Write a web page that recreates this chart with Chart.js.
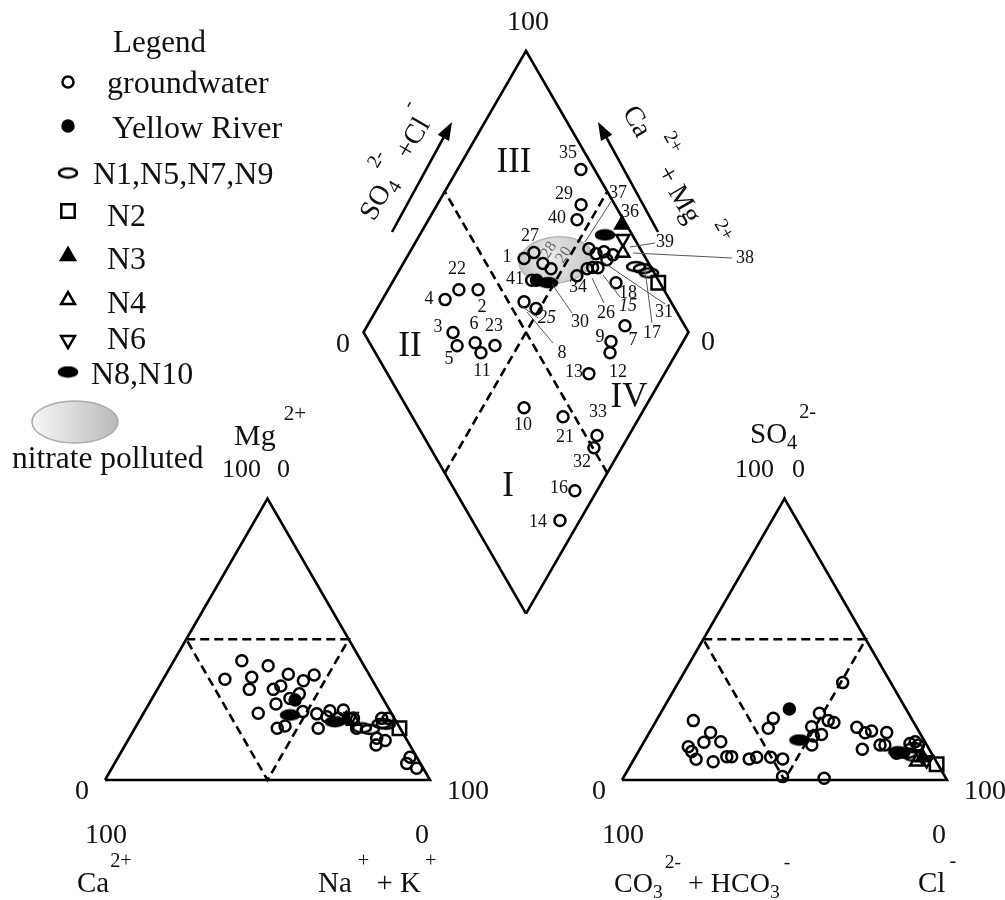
<!DOCTYPE html>
<html>
<head>
<meta charset="utf-8">
<script src="https://cdn.jsdelivr.net/npm/chart.js@4.4.1/dist/chart.umd.min.js"></script>
<style>
  html, body { margin: 0; padding: 0; background: #fff; }
  canvas { display: block; }
</style>
</head>
<body>
<canvas id="piper" width="1005" height="900"></canvas>
<script>
// cation triangle values, [Na+K %, Mg %]
const catGround = [
  [20.9, 42.4], [29.9, 40.6], [19.0, 35.8], [26.9, 36.5], [28.3, 32.2], [37.6, 37.6],
  [45.7, 37.3], [43.4, 35.3], [35.7, 32.2], [37.4, 33.4], [44.5, 30.6], [42.4, 29.0],
  [39.1, 27.0], [35.3, 23.7], [43.8, 18.4], [45.8, 19.2], [48.7, 24.3], [53.4, 23.5],
  [56.9, 24.6], [60.9, 24.9], [65.5, 21.9], [56.4, 18.4], [68.2, 18.4], [74.2, 21.9],
  [76.2, 21.9], [76.2, 14.8], [79.2, 14.0], [77.2, 12.4], [89.8, 8.1], [89.9, 5.9],
  [93.8, 4.2], [60.9, 21.9], [57.0, 22.5]
];
const catRiver = [[44.3, 28.4]];
const catN1579 = [[72.5, 18.0], [69.8, 18.5], [75.1, 20.1], [76.5, 19.8]];
const catN2 = [[81.4, 18.4]];
const catN3 = [[63.5, 21.5]];
const catN4 = [[66.0, 21.0]];
const catN6 = [[64.5, 22.5]];
const catN810 = [[45.4, 23.1], [60.4, 20.7]];

// anion triangle values, [Cl %, SO4 %]
const anGround = [
  [11.4, 21.1], [18.8, 16.9], [18.5, 13.4], [23.6, 13.6], [14.5, 11.8], [16.4, 10.1],
  [19.1, 7.4], [24.8, 6.5], [28.1, 8.3], [29.6, 8.3], [35.4, 7.5], [37.4, 8.1],
  [41.7, 8.1], [45.7, 7.5], [48.8, 1.2], [61.9, 0.6], [35.6, 21.9], [35.8, 18.4],
  [50.6, 34.6], [48.9, 23.7], [48.9, 18.9], [53.3, 16.2], [52.9, 21.1], [55.0, 20.4],
  [51.1, 15.6], [52.2, 12.4], [62.9, 18.7], [66.4, 16.8], [68.1, 17.4], [73.0, 16.9],
  [68.5, 10.9], [73.2, 12.4], [74.7, 12.4], [83.4, 13.6], [85.0, 12.4], [82.1, 13.0],
  [79.7, 9.5]
];
const anRiver = [[38.9, 25.2]];
const anN1579 = [[82.9, 9.5], [85.4, 8.5], [80.0, 10.0], [84.0, 11.5]];
const anN2 = [[94.0, 5.6]];
const anN3 = [[88.5, 8.0]];
const anN4 = [[87.4, 6.5]];
const anN6 = [[90.2, 7.1]];
const anN810 = [[47.5, 14.2], [80.8, 9.5]];

// diamond values, [SO4+Cl %, Ca+Mg %]
const diaIds = [
  '1', '2', '3', '4', '5', '6', '7', '9', '10', '11', '12', '13', '14', '16', '21', '22',
  '23', '27', '28', '20', '29', '32', '33', '35', '40', '41', '25', '8', '37', '36', '39',
  '38', '26', '30', '34', '18', '15', '31'
];
const diaGround = [
  [62.5, 63.7], [42.8, 72.3], [27.5, 72.4], [30.9, 80.7], [26.4, 68.8], [32.5, 63.8],
  [81.6, 20.7], [74.5, 22.2], [36.0, 37.2], [32.5, 60.2], [72.2, 20.5], [62.0, 23.3],
  [27.0, 6.1], [36.9, 6.8], [46.4, 23.6], [36.9, 78.2], [38.1, 57.2], [66.6, 61.7],
  [67.4, 57.0], [69.0, 53.6], [89.6, 55.7], [50.4, 8.6], [53.5, 9.8], [95.8, 62.0],
  [85.7, 54.3], [61.0, 57.5], [57.3, 51.1], [54.8, 56.0], [84.2, 45.5], [85.5, 42.4],
  [88.3, 40.3], [87.8, 38.0], [83.6, 39.3], [80.1, 42.5], [75.7, 44.4], [86.5, 31.1],
  [82.0, 41.0], [90.5, 37.0]
];
const diaRiver = [[62.5, 56.0]];
const diaN1579 = [[95.5, 27.8], [97.3, 25.3], [98.4, 22.7]];
const diaN2 = [[99.5, 18.1]];
const diaN3 = [[98.6, 39.6]];
const diaN4 = [[93.9, 34.3]];
const diaN6 = [[96.4, 36.8]];
const diaN810 = [[91.6, 43.0], [65.6, 52.0]];

// layout of the piper plot (chart units = pixels)
const X0 = 105, BASE = 780, SIDE = 325, GAP = 192;
const H = SIDE * Math.sqrt(3) / 2;
const k = SIDE / 100, kh = H / 100;
const catXY = ([nak, mg]) => ({ x: X0 + k * (nak + mg / 2), y: BASE - kh * mg });
const anXY = ([cl, so4]) => ({ x: X0 + SIDE + GAP + k * (cl + so4 / 2), y: BASE - kh * so4 });
const Bx = X0 + SIDE + GAP / 2, By = BASE - GAP / 2 * Math.sqrt(3);
const diaXY = ([s, c]) => ({ x: Bx + k / 2 * (s - c), y: By - kh * (s + c) });

const SERIF = '"Liberation Serif", "Times New Roman", serif';

function ellipseMark(filled) {
  const c = document.createElement('canvas');
  c.width = 22; c.height = 13;
  const g = c.getContext('2d');
  g.beginPath();
  g.ellipse(11, 6.5, 9, 4.5, 0, 0, Math.PI * 2);
  g.lineWidth = 2.5;
  g.strokeStyle = '#000';
  if (filled) { g.fillStyle = '#000'; g.fill(); }
  g.stroke();
  return c;
}

const groups = [
  { label: 'groundwater', cat: catGround, an: anGround, dia: diaGround,
    style: { pointStyle: 'circle', pointRadius: 5.5, backgroundColor: 'rgba(0,0,0,0)' } },
  { label: 'Yellow River', cat: catRiver, an: anRiver, dia: diaRiver,
    style: { pointStyle: 'circle', pointRadius: 5.5, backgroundColor: '#000' } },
  { label: 'N1,N5,N7,N9', cat: catN1579, an: anN1579, dia: diaN1579,
    style: { pointStyle: ellipseMark(false), pointRadius: 6 } },
  { label: 'N2', cat: catN2, an: anN2, dia: diaN2,
    style: { pointStyle: 'rect', pointRadius: 9.5, backgroundColor: 'rgba(0,0,0,0)' } },
  { label: 'N3', cat: catN3, an: anN3, dia: diaN3,
    style: { pointStyle: 'triangle', pointRadius: 7.5, backgroundColor: '#000' } },
  { label: 'N4', cat: catN4, an: anN4, dia: diaN4,
    style: { pointStyle: 'triangle', pointRadius: 7.5, backgroundColor: 'rgba(0,0,0,0)' } },
  { label: 'N6', cat: catN6, an: anN6, dia: diaN6,
    style: { pointStyle: 'triangle', pointRadius: 7.5, pointRotation: 180, backgroundColor: 'rgba(0,0,0,0)' } },
  { label: 'N8,N10', cat: catN810, an: anN810, dia: diaN810,
    style: { pointStyle: ellipseMark(true), pointRadius: 6 } }
];

const frame = (pts, dash) => ({
  data: pts, showLine: true, pointRadius: 0, borderColor: '#000',
  borderWidth: 2.6, borderDash: dash || [], fill: false, order: 10, clip: false
});

const datasets = [
  frame([[0, 0], [100, 0], [0, 100], [0, 0]].map(catXY)),
  frame([[0, 50], [50, 50], [50, 0], [0, 50]].map(catXY), [9, 5]),
  frame([[0, 0], [100, 0], [0, 100], [0, 0]].map(anXY)),
  frame([[0, 50], [50, 50], [50, 0], [0, 50]].map(anXY), [9, 5]),
  frame([[0, 0], [0, 100], [100, 100], [100, 0], [0, 0]].map(diaXY)),
  frame([[50, 0], [50, 100]].map(diaXY), [9, 5]),
  frame([[0, 50], [100, 50]].map(diaXY), [9, 5])
];
groups.forEach(g => {
  datasets.push(Object.assign({
    label: g.label,
    data: [...g.cat.map(catXY), ...g.an.map(anXY), ...g.dia.map(diaXY)],
    borderColor: '#000', borderWidth: 2.5, order: 0, clip: false
  }, g.style));
});

// text annotations, chart units
const numLabels = [
  ['35', 568, 153], ['29', 564, 194], ['40', 557, 218], ['27', 530, 236], ['1', 507, 257],
  ['41', 515, 279], ['22', 457, 269], ['4', 429, 299], ['2', 482, 307], ['3', 438, 327],
  ['6', 474, 324], ['23', 494, 326], ['5', 449, 359], ['11', 482, 371], ['37', 618, 193],
  ['36', 630, 212], ['39', 665, 242], ['38', 745, 258], ['34', 578, 287], ['18', 628, 293],
  ['26', 606, 313], ['30', 580, 322], ['31', 664, 312], ['17', 652, 333], ['7', 633, 340],
  ['9', 600, 337], ['8', 562, 353], ['12', 618, 372], ['13', 574, 372], ['33', 598, 412],
  ['10', 523, 425], ['21', 565, 437], ['32', 582, 462], ['16', 559, 488], ['14', 538, 522]
];
const italicLabels = [['15', 628, 306], ['25', 547, 318]];
const leaders = [
  [630, 247, 655, 243], [633, 253, 732, 258], [600, 260, 665, 304], [645, 270, 652, 323],
  [552, 284, 572, 313], [592, 278, 604, 303], [603, 275, 620, 297], [585, 242, 612, 200],
  [527, 312, 553, 343], [520, 305, 538, 318]
];
const romans = [['III', 514, 163], ['II', 410, 347], ['IV', 629, 398], ['I', 508, 487]];

function drawRich(ctx, parts, x, y, size, rot) {
  ctx.save();
  ctx.translate(x, y);
  ctx.rotate(rot || 0);
  ctx.textAlign = 'left';
  ctx.textBaseline = 'alphabetic';
  let cx = 0;
  parts.forEach(p => {
    const small = p.sup || p.sub;
    ctx.font = (small ? size * 0.7 : size) + 'px ' + SERIF;
    const dy = p.sup ? -size * 0.85 : p.sub ? size * 0.22 : 0;
    cx += p.dx || 0;
    ctx.fillText(p.t, cx, dy);
    cx += ctx.measureText(p.t).width;
  });
  ctx.restore();
}

const legendRows = [
  [82, 107, 93], [126, 112, 138], [173, 93, 184], [211, 107, 226],
  [256, 107, 269], [300, 107, 313], [340, 107, 349], [372, 91, 384]
];

const piperText = {
  id: 'piperText',
  beforeDatasetsDraw(chart) {
    const { ctx, scales: { x, y } } = chart;
    // nitrate polluted zone in the diamond
    ctx.save();
    const ex = x.getPixelForValue(556), ey = y.getPixelForValue(260);
    const grad = ctx.createRadialGradient(ex - 8, ey - 4, 4, ex, ey, 40);
    grad.addColorStop(0, '#e8e8e8');
    grad.addColorStop(1, '#c4c4c4');
    ctx.beginPath();
    ctx.ellipse(ex, ey, 37, 23, -0.1, 0, Math.PI * 2);
    ctx.fillStyle = grad;
    ctx.fill();
    ctx.strokeStyle = '#b5b5b5';
    ctx.lineWidth = 1.5;
    ctx.stroke();
    ctx.restore();
  },
  afterDatasetsDraw(chart) {
    const { ctx, scales: { x, y } } = chart;
    const px = v => x.getPixelForValue(v), py = v => y.getPixelForValue(v);
    ctx.save();
    ctx.fillStyle = '#111';

    // leader lines
    ctx.strokeStyle = '#555';
    ctx.lineWidth = 1;
    leaders.forEach(([a, b, c, d]) => {
      ctx.beginPath(); ctx.moveTo(px(a), py(b)); ctx.lineTo(px(c), py(d)); ctx.stroke();
    });

    // arrows beside the diamond
    [[392, 232, 452, 122], [658, 232, 598, 122]].forEach(([a, b, c, d]) => {
      const x1 = px(a), y1 = py(b), x2 = px(c), y2 = py(d);
      const ang = Math.atan2(y2 - y1, x2 - x1);
      ctx.beginPath(); ctx.moveTo(x1, y1);
      ctx.lineTo(x2 - 14 * Math.cos(ang), y2 - 14 * Math.sin(ang));
      ctx.strokeStyle = '#000'; ctx.lineWidth = 2.6; ctx.stroke();
      ctx.beginPath();
      ctx.moveTo(x2, y2);
      ctx.lineTo(x2 - 18 * Math.cos(ang) + 6.5 * Math.sin(ang), y2 - 18 * Math.sin(ang) - 6.5 * Math.cos(ang));
      ctx.lineTo(x2 - 18 * Math.cos(ang) - 6.5 * Math.sin(ang), y2 - 18 * Math.sin(ang) + 6.5 * Math.cos(ang));
      ctx.closePath(); ctx.fillStyle = '#000'; ctx.fill();
    });
    ctx.fillStyle = '#111';

    // sample numbers
    ctx.textAlign = 'center';
    ctx.textBaseline = 'middle';
    ctx.font = '18px ' + SERIF;
    numLabels.forEach(([t, a, b]) => ctx.fillText(t, px(a), py(b)));
    ctx.font = 'italic 18px ' + SERIF;
    italicLabels.forEach(([t, a, b]) => ctx.fillText(t, px(a), py(b)));
    ctx.font = '16px ' + SERIF;
    ctx.fillStyle = '#666';
    [['28', 549, 250], ['20', 564, 255]].forEach(([t, a, b]) => {
      ctx.save(); ctx.translate(px(a), py(b)); ctx.rotate(-Math.PI / 3.2);
      ctx.fillText(t, 0, 0); ctx.restore();
    });
    ctx.fillStyle = '#111';
    ctx.font = '35px ' + SERIF;
    romans.forEach(([t, a, b]) => ctx.fillText(t, px(a), py(b)));

    // scale labels
    ctx.textAlign = 'left';
    ctx.textBaseline = 'alphabetic';
    ctx.font = '28px ' + SERIF;
    [['100', 507, 30], ['0', 336, 352], ['0', 701, 350],
     ['0', 75, 799], ['100', 447, 799], ['0', 592, 799], ['100', 964, 799],
     ['100', 85, 843], ['0', 415, 843], ['100', 602, 843], ['0', 932, 843]
    ].forEach(([t, a, b]) => ctx.fillText(t, px(a), py(b)));
    ctx.font = '26px ' + SERIF;
    [['100', 222, 477], ['0', 277, 477], ['100', 735, 477], ['0', 792, 477]]
      .forEach(([t, a, b]) => ctx.fillText(t, px(a), py(b)));

    drawRich(ctx, [{ t: 'Mg' }, { t: '2+', sup: true, dx: 8 }], px(234), py(445), 30);
    drawRich(ctx, [{ t: 'SO' }, { t: '4', sub: true }, { t: '2-', sup: true, dx: 2 }], px(750), py(443), 29);
    drawRich(ctx, [{ t: 'Ca' }, { t: '2+', sup: true, dx: 1 }], px(77), py(892), 29);
    drawRich(ctx, [{ t: 'Na' }, { t: '+', sup: true, dx: 6 }, { t: ' + K' }, { t: '+', sup: true, dx: 4 }], px(318), py(892), 29);
    drawRich(ctx, [{ t: 'CO' }, { t: '3', sub: true }, { t: '2-', sup: true, dx: 2 }, { t: ' + HCO' }, { t: '3', sub: true }, { t: '-', sup: true, dx: 4 }], px(614), py(892), 28);
    drawRich(ctx, [{ t: 'Cl' }, { t: '-', sup: true, dx: 4 }], px(918), py(892), 29);
    drawRich(ctx, [{ t: 'SO' }, { t: '4', sub: true }, { t: '2-', sup: true, dx: 2 }, { t: ' +Cl' }, { t: '-', sup: true, dx: 3 }], px(374), py(222), 28, -Math.PI / 3);
    drawRich(ctx, [{ t: 'Ca' }, { t: '2+', sup: true, dx: 10 }, { t: ' + Mg' }, { t: '2+', sup: true, dx: 12 }], px(622), py(112), 28, Math.PI / 3);

    // legend
    ctx.font = '31px ' + SERIF;
    ctx.fillText('Legend', px(113), py(52));
    ctx.font = '32px ' + SERIF;
    const sets = chart.data.datasets.filter(d => d.label);
    sets.forEach((ds, i) => {
      const [sy, tx, tb] = legendRows[i];
      ctx.fillStyle = ds.backgroundColor || 'rgba(0,0,0,0)';
      ctx.strokeStyle = '#000';
      ctx.lineWidth = 2.5;
      Chart.helpers.drawPoint(ctx, {
        pointStyle: ds.pointStyle, rotation: ds.pointRotation || 0,
        radius: ds.pointStyle === 'triangle' ? 8 : ds.pointRadius, borderWidth: 2.5
      }, px(68), py(sy));
      ctx.fillStyle = '#111';
      ctx.fillText(ds.label, px(tx), py(tb));
    });
    // legend swatch for the polluted zone
    const lx = px(75), ly = py(422);
    const lg = ctx.createLinearGradient(lx - 43, ly, lx + 43, ly);
    lg.addColorStop(0, '#f7f7f7');
    lg.addColorStop(1, '#b9b9b9');
    ctx.beginPath();
    ctx.ellipse(lx, ly, 43, 21, 0, 0, Math.PI * 2);
    ctx.fillStyle = lg; ctx.fill();
    ctx.strokeStyle = '#aaa'; ctx.lineWidth = 1.5; ctx.stroke();
    ctx.fillStyle = '#111';
    ctx.font = '31.5px ' + SERIF;
    ctx.fillText('nitrate polluted', px(12), py(468));
    ctx.restore();
  }
};

const chart = new Chart(document.getElementById('piper').getContext('2d'), {
  type: 'scatter',
  data: { datasets },
  options: {
    responsive: false,
    animation: false,
    events: [],
    layout: { padding: 0, autoPadding: false },
    plugins: { legend: { display: false }, tooltip: { enabled: false } },
    scales: {
      x: { type: 'linear', min: 0, max: 1005, display: false },
      y: { type: 'linear', min: 0, max: 900, reverse: true, display: false }
    }
  },
  plugins: [piperText]
});
</script>
</body>
</html>
